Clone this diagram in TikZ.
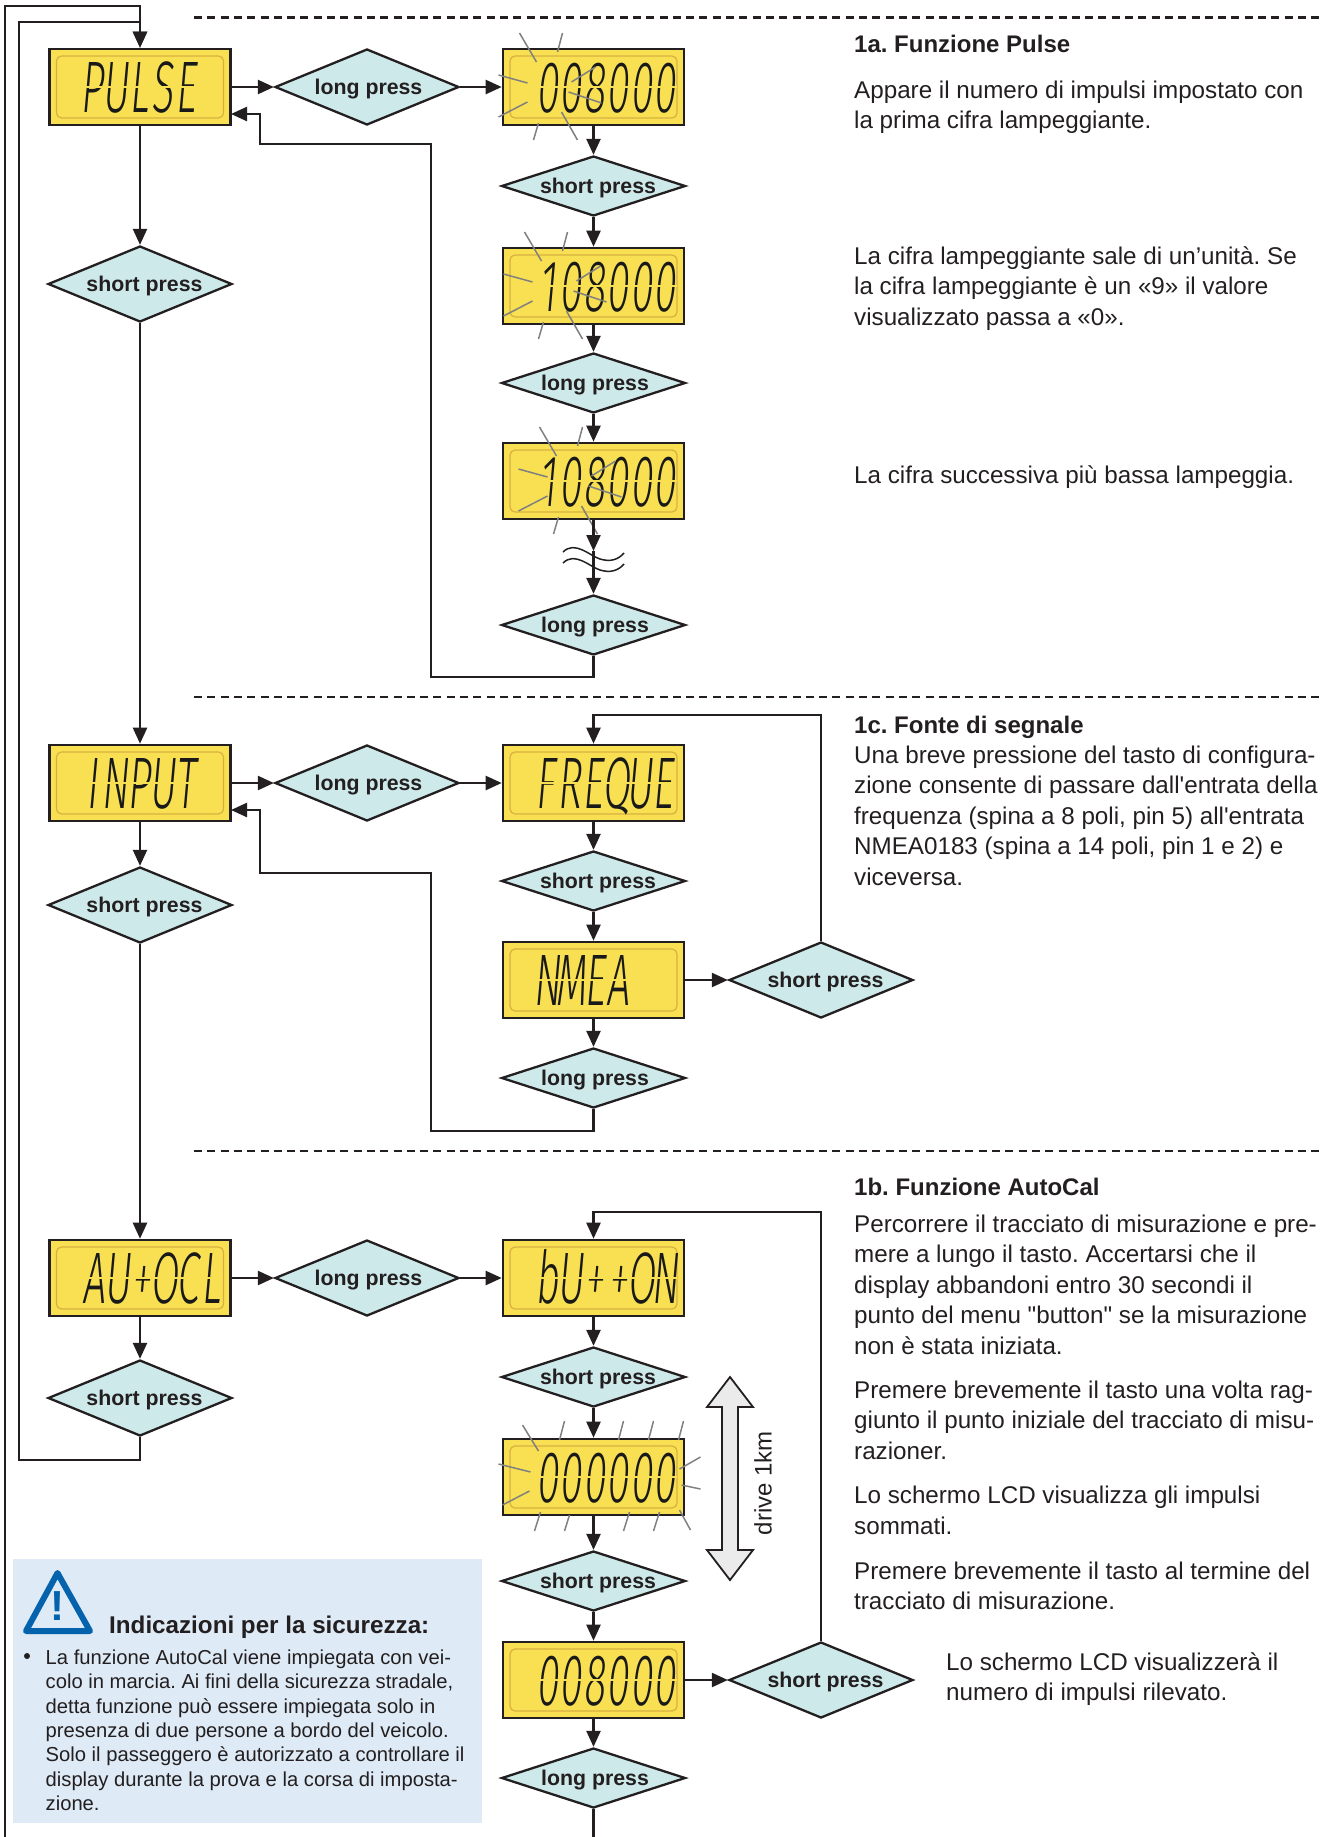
\documentclass[tikz,border=0pt]{standalone}
\usepackage{fontspec}
\setmainfont{Liberation Sans}
\newfontfamily\lcdfont[FakeStretch=0.55,FakeSlant=0.09]{Fira Sans Light}
\usepackage{xcolor}
\usetikzlibrary{arrows.meta}
\usetikzlibrary{shapes.geometric}
\definecolor{ink}{HTML}{231F20}
\definecolor{lcdyellow}{HTML}{F8E052}
\definecolor{lcdedge}{HTML}{D9B040}
\definecolor{pressblue}{HTML}{CEE9EA}
\definecolor{notebox}{HTML}{DEEAF6}
\definecolor{noteblue}{HTML}{0563AE}
\definecolor{rayline}{HTML}{808080}
\tikzset{
  wire/.style={draw=ink, line width=2.3pt},
  link/.style={wire, -{Triangle[length=16pt, width=14pt]}},
  lcd/.style={
    draw=ink, line width=2.6pt, fill=lcdyellow, minimum width=181pt, minimum height=76pt, inner sep=0pt,
    path picture={
      \draw[lcdedge, line width=1.2pt, rounded corners=5pt]
        ([shift={(7,7)}]path picture bounding box.north west) rectangle
        ([shift={(-7,-7)}]path picture bounding box.south east);
    }
  },
  lcdword/.style={anchor=base west, inner sep=0pt, text=black!90, font=\fontsize{73pt}{73pt}\selectfont\lcdfont},
  lcdgap/.style={draw=lcdyellow, line width=1.6pt},
  press/.style={
    diamond, draw=ink, line width=2.3pt, fill=pressblue, inner sep=0pt, aspect=2.42, text depth=0pt,
    minimum width=184pt, minimum height=76pt, text=ink,
    font=\fontsize{21.3pt}{24pt}\selectfont\bfseries
  },
  flatpress/.style={press, minimum height=60pt, aspect=2.9},
  para/.style={
    anchor=north west, inner sep=0pt, align=left, yshift=21.35pt, text=ink,
    font=\fontsize{24.2pt}{30.5pt}\selectfont
  },
  head/.style={para, font=\fontsize{24pt}{30.5pt}\selectfont\bfseries},
  cut/.style={draw=ink, line width=2.6pt, dash pattern=on 8pt off 5.3pt},
  ray/.style={draw=rayline, line width=1.5pt}
}
\newcommand{\pressgap}{\hspace*{9pt}}
\newcommand{\longgap}{\hspace*{3pt}}
\newcommand{\cell}[1]{\makebox[23.5pt]{#1}}
\newcommand{\blinkrays}[2]{%
	\foreach \ax/\ay/\bx/\by in {-69/-54/-52/-25, -26/-54/-31/-35, -90/-12/-61/-4, -90/30/-61/15, -50/36/-55/53, -27/25/-11/53, -17/-5/7/-20, -20/5/13/16}
		\draw[ray] ([shift={(\ax+#2,\ay)}]#1.center) -- ([shift={(\bx+#2,\by)}]#1.center);
}
\frenchspacing

\begin{document}
\begin{tikzpicture}[x=1pt, y=-1pt]
	\useasboundingbox (0,0) rectangle (1330,1837);
	% section cuts
	\coordinate (cutaL) at (194,17.5);
	\coordinate (cutaR) at (1322,17.5);
	\coordinate (cutbL) at (194,697);
	\coordinate (cutbR) at (1322,697);
	\coordinate (cutcL) at (194,1151);
	\coordinate (cutcR) at (1322,1151);
	\draw[cut] (cutaL) -- (cutaR);
	\draw[cut] (cutbL) -- (cutbR);
	\draw[cut] (cutcL) -- (cutcR);
	% displays
	\node[lcd] (pulse) at (140,87) {};
	\node[lcd] (pulseA) at (593.5,87) {};
	\node[lcd] (pulseB) at (593.5,286) {};
	\node[lcd] (pulseC) at (593.5,481) {};
	\node[lcd] (input) at (140,783) {};
	\node[lcd] (freq) at (593.5,783) {};
	\node[lcd] (nmea) at (593.5,980) {};
	\node[lcd] (auto) at (140,1278) {};
	\node[lcd] (button) at (593.5,1278) {};
	\node[lcd] (zero) at (593.5,1477) {};
	\node[lcd] (count) at (593.5,1680) {};
	%
	\node[lcdword] (pulseT) at ([shift={(-60,25)}]pulse.center) {\cell{P}\cell{U}\cell{L}\cell{S}\cell{E}};
	\node[lcdword] (pulseAT) at ([shift={(-58,25)}]pulseA.center) {\cell{0}\cell{0}\cell{8}\cell{0}\cell{0}\cell{0}};
	\node[lcdword] (pulseBT) at ([shift={(-58,25)}]pulseB.center) {\cell{1}\cell{0}\cell{8}\cell{0}\cell{0}\cell{0}};
	\node[lcdword] (pulseCT) at ([shift={(-58,25)}]pulseC.center) {\cell{1}\cell{0}\cell{8}\cell{0}\cell{0}\cell{0}};
	\node[lcdword] (inputT) at ([shift={(-60,25)}]input.center) {\cell{I}\cell{N}\cell{P}\cell{U}\cell{T}};
	\node[lcdword] (freqT) at ([shift={(-60,25)}]freq.center) {\cell{F}\cell{R}\cell{E}\cell{Q}\cell{U}\cell{E}};
	\node[lcdword] (nmeaT) at ([shift={(-58,25)}]nmea.center) {\cell{N}\cell{M}\cell{E}\cell{A}};
	\node[lcdword] (autoT) at ([shift={(-58,25)}]auto.center) {\cell{A}\cell{U}\cell{+}\cell{O}\cell{C}\cell{L}};
	\node[lcdword] (buttonT) at ([shift={(-58,25)}]button.center) {\cell{b}\cell{U}\cell{+}\cell{+}\cell{O}\cell{N}};
	\node[lcdword] (zeroT) at ([shift={(-58,25)}]zero.center) {\cell{0}\cell{0}\cell{0}\cell{0}\cell{0}\cell{0}};
	\node[lcdword] (countT) at ([shift={(-58,25)}]count.center) {\cell{0}\cell{0}\cell{8}\cell{0}\cell{0}\cell{0}};
	% segment gaps
	\foreach \word in {pulseT, pulseAT, pulseBT, pulseCT, inputT, freqT, nmeaT, autoT, buttonT, zeroT, countT}
		\draw[lcdgap] ([yshift=25pt]\word.base west) -- ([yshift=25pt]\word.base east);
	%
	\blinkrays{pulseA}{-5}
	\blinkrays{pulseB}{0}
	\blinkrays{pulseC}{15}
	\foreach \ax/\ay/\bx/\by in {-71/-52/-55/-26, -29/-56/-34/-37, 30/-56/25/-37, 60/-56/55/-37, 90/-56/85/-37, -95/-13/-63/-5, -91/28/-64/14, 107/-20/86/-8, 107/12/88/8, -53/35/-59/54, -24/38/-29/54, 36/35/30/54, 66/35/60/54, 86/33/97/53}
		\draw[ray] ([shift={(\ax,\ay)}]zero.center) -- ([shift={(\bx,\by)}]zero.center);
	% presses
	\node[press] (pulseLong) at (367,87) {\longgap long press};
	\node[press] (pulseShort) at (140,284) {\pressgap short press};
	\node[flatpress] (pressA) at (593.5,186) {\pressgap short press};
	\node[flatpress] (pressB) at (593.5,383) {\longgap long press};
	\node[flatpress] (pressC) at (593.5,625) {\longgap long press};
	\node[press] (inputLong) at (367,783) {\longgap long press};
	\node[press] (inputShort) at (140,905) {\pressgap short press};
	\node[flatpress] (pressD) at (593.5,881) {\pressgap short press};
	\node[press] (pressE) at (821,980) {\pressgap short press};
	\node[flatpress] (pressF) at (593.5,1078) {\longgap long press};
	\node[press] (autoLong) at (367,1278) {\longgap long press};
	\node[press] (autoShort) at (140,1398) {\pressgap short press};
	\node[flatpress] (pressG) at (593.5,1377) {\pressgap short press};
	\node[flatpress] (pressH) at (593.5,1581) {\pressgap short press};
	\node[press] (pressI) at (821,1680) {\pressgap short press};
	\node[flatpress] (pressJ) at (593.5,1778) {\longgap long press};
	% first section
	\coordinate (topOuter) at (140,6);
	\coordinate (topInner) at (140,22);
	\coordinate (outerEnd) at (5,1837);
	\coordinate (autoTurn) at (19,1460);
	\coordinate (lastEnd) at (593.5,1837);
	\draw[link] (outerEnd) |- (topOuter) -- (pulse.north);
	\draw[link] (autoShort.south) |- (autoTurn) |- (topInner) -- (pulse.north);
	\draw[wire] (pressJ.south) -- (lastEnd);
	%
	\draw[link] (pulse.east) -- (pulseLong.west);
	\draw[link] (pulseLong.east) -- (pulseA.west);
	\draw[link] (pulseA.south) -- (pressA.north);
	\draw[link] (pressA.south) -- (pulseB.north);
	\draw[link] (pulseB.south) -- (pressB.north);
	\draw[link] (pressB.south) -- (pulseC.north);
	\coordinate (breakPt) at (593.5,551);
	\draw[link] (pulseC.south) -- (breakPt);
	\draw[link] (breakPt) -- (pressC.north);
	\draw[ink, line width=1.5pt] (563,552) .. controls (575,540) and (590,556) .. (600,559) .. controls (610,562) and (618,560) .. (624,553);
	\draw[ink, line width=1.5pt] (563,563) .. controls (575,551) and (590,567) .. (600,570) .. controls (610,573) and (618,571) .. (624,564);
	\coordinate (backA) at (431,677);
	\coordinate (backB) at (260,144);
	\coordinate (pulseIn) at (231,114);
	\draw[link] (pressC.south) |- (backA) |- (backB) |- (pulseIn);
	\draw[link] (pulse.south) -- (pulseShort.north);
	\draw[link] (pulseShort.south) -- (input.north);
	% second section
	\draw[link] (input.east) -- (inputLong.west);
	\draw[link] (inputLong.east) -- (freq.west);
	\draw[link] (freq.south) -- (pressD.north);
	\draw[link] (pressD.south) -- (nmea.north);
	\draw[link] (nmea.south) -- (pressF.north);
	\draw[link] (nmea.east) -- (pressE.west);
	\coordinate (loopA) at (593.5,715);
	\draw[link] (pressE.north) |- (loopA) -- (freq.north);
	\coordinate (backC) at (431,1131);
	\coordinate (backD) at (260,873);
	\coordinate (inputIn) at (231,810);
	\draw[link] (pressF.south) |- (backC) |- (backD) |- (inputIn);
	\draw[link] (input.south) -- (inputShort.north);
	\draw[link] (inputShort.south) -- (auto.north);
	% third section
	\draw[link] (auto.east) -- (autoLong.west);
	\draw[link] (autoLong.east) -- (button.west);
	\draw[link] (auto.south) -- (autoShort.north);
	\draw[link] (button.south) -- (pressG.north);
	\draw[link] (pressG.south) -- (zero.north);
	\draw[link] (zero.south) -- (pressH.north);
	\draw[link] (pressH.south) -- (count.north);
	\draw[link] (count.south) -- (pressJ.north);
	\draw[link] (count.east) -- (pressI.west);
	\coordinate (loopB) at (593.5,1212);
	\draw[link] (pressI.north) |- (loopB) -- (button.north);
	% drive arrow
	\draw[draw=ink, line width=1.8pt, fill=black!8, line join=miter]
		(730,1377) -- (753,1407) -- (738,1407) -- (738,1550) -- (753,1550) -- (730,1580)
		-- (707,1550) -- (722,1550) -- (722,1407) -- (707,1407) -- cycle;
	\node[rotate=90, text=ink, inner sep=0pt, font=\fontsize{24pt}{26pt}\selectfont] (driveT) at (763,1483) {drive 1km};
	% right column
	\node[head] (titleA) at (854,56.5) {1a. Funzione Pulse};
	\node[para] (textA) at (854,98) {\strut Appare il numero di impulsi impostato con\\la prima cifra lampeggiante.};
	\node[para] (textB) at (854,264) {\strut La cifra lampeggiante sale di un’unità. Se\\la cifra lampeggiante è un «9» il valore\\visualizzato passa a «0».};
	\node[para] (textC) at (854,483) {\strut La cifra successiva più bassa lampeggia.};
	\node[head] (titleB) at (854,737) {1c. Fonte di segnale};
	\node[para] (textD) at (854,763) {\strut Una breve pressione del tasto di configura-\\zione consente di passare dall\textquotesingle entrata della\\frequenza (spina a 8 poli, pin 5) all\textquotesingle entrata\\NMEA0183 (spina a 14 poli, pin 1 e 2) e\\viceversa.};
	\node[head] (titleC) at (854,1199) {1b. Funzione AutoCal};
	\node[para] (textE) at (854,1232) {\strut Percorrere il tracciato di misurazione e pre-\\mere a lungo il tasto. Accertarsi che il\\display abbandoni entro 30 secondi il\\punto del menu \textquotedbl button\textquotedbl\ se la misurazione\\non è stata iniziata.};
	\node[para] (textF) at (854,1398) {\strut Premere brevemente il tasto una volta rag-\\giunto il punto iniziale del tracciato di misu-\\razioner.};
	\node[para] (textG) at (854,1503.5) {\strut Lo schermo LCD visualizza gli impulsi\\sommati.};
	\node[para] (textH) at (854,1579) {\strut Premere brevemente il tasto al termine del\\tracciato di misurazione.};
	\node[para] (textI) at (946,1670) {\strut Lo schermo LCD visualizzerà il\\numero di impulsi rilevato.};
	% safety note
	\fill[notebox] (13,1559) rectangle (482,1823);
	\draw[noteblue, line width=6pt, line join=round] (57.5,1573) -- (90,1631) -- (26,1631) -- cycle;
	\node[text=noteblue, inner sep=0pt, font=\fontsize{42pt}{42pt}\selectfont\bfseries] (warnT) at (57.5,1606) {!};
	\node[anchor=base west, inner sep=0pt, text=ink, font=\fontsize{24.2pt}{26pt}\selectfont\bfseries] (noteTitle) at (109,1633) {Indicazioni per la sicurezza:};
	\fill[ink] (27,1656) circle [radius=3];
	\node[anchor=north west, inner sep=0pt, align=left, yshift=17pt, text=ink, font=\fontsize{20.2pt}{24.4pt}\selectfont] (noteText) at (45.5,1664)
		{\strut La funzione AutoCal viene impiegata con vei-\\colo in marcia. Ai fini della sicurezza stradale,\\detta funzione può essere impiegata solo in\\presenza di due persone a bordo del veicolo.\\Solo il passeggero è autorizzato a controllare il\\display durante la prova e la corsa di imposta-\\zione.};
\end{tikzpicture}
\end{document}
